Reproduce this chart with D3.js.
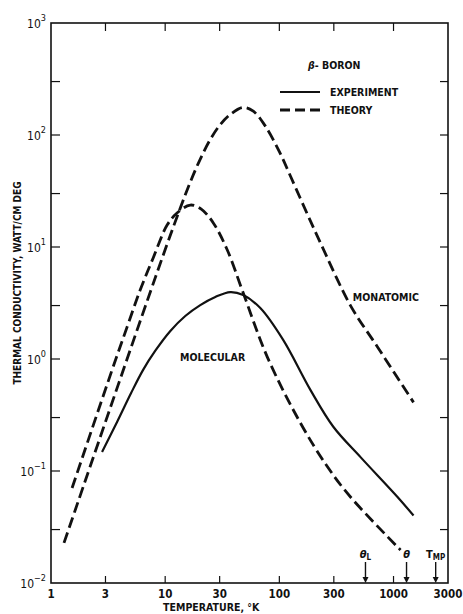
<!DOCTYPE html>
<html>
<head>
<meta charset="utf-8">
<script src="https://cdn.jsdelivr.net/npm/d3@7"></script>
<style>
  body { margin: 0; background: #fff; }
  svg { display: block; }
</style>
</head>
<body>
<div id="chart"></div>
<script>
// temperatures (K) and thermal conductivity (watt/cm deg)
const monatomicT = [1.30, 10.4, 16.6, 20.3, 24.8, 30.4, 37.9, 48.3, 59.1, 75.4, 100, 125, 187, 229, 420, 724, 1497];
const monatomicK = [0.0228, 10.6, 38, 61, 91, 124, 155, 176, 163, 120, 71, 43, 17.1, 10.9, 3.0, 1.28, 0.41];

const molecularT = [1.53, 3.43, 4.64, 6.04, 7.85, 10.4, 12.7, 16.6, 20.7, 26.4, 35, 48.3, 78.5, 153, 264, 420, 1152];
const molecularK = [0.0705, 0.80, 1.93, 4.13, 7.98, 15.7, 20.1, 23.7, 21.8, 16.4, 9.4, 3.88, 1.04, 0.268, 0.109, 0.0586, 0.0197];

const experimentT = [2.80, 3.79, 5.03, 6.41, 8.17, 11.1, 15.0, 20.3, 27.5, 37.2, 48.3, 68.1, 108, 187, 298, 514, 1084, 1497];
const experimentK = [0.148, 0.274, 0.497, 0.80, 1.18, 1.78, 2.42, 3.03, 3.58, 3.96, 3.72, 2.85, 1.48, 0.53, 0.247, 0.133, 0.0586, 0.040];

const xTicks = [1, 3, 10, 30, 100, 300, 1000, 3000];
const yExponents = [-2, -1, 0, 1, 2, 3];
const markerNames = ["θ", "θ", "T"];
const markerSubs = ["L", "", "MP"];
const markerT = [568, 1300, 2340];

const font = "'DejaVu Sans Condensed', 'DejaVu Sans', sans-serif";

const margin = { top: 23, right: 15, bottom: 31, left: 51 };
const totalW = 463, totalH = 614;
const width = totalW - margin.left - margin.right;
const height = totalH - margin.top - margin.bottom;

const svg = d3.select("#chart").append("svg")
    .attr("width", totalW)
    .attr("height", totalH);

const g = svg.append("g")
    .attr("transform", "translate(" + margin.left + "," + margin.top + ")");

const x = d3.scaleLog().domain([1, 3000]).range([0, width]);
const y = d3.scaleLog().domain([0.01, 1000]).range([height, 0]);

// frame
g.append("rect")
    .attr("width", width)
    .attr("height", height)
    .attr("fill", "none")
    .attr("stroke", "#111")
    .attr("stroke-width", 1.6);

// ticks: decades and 3x decades on all four sides, pointing inward
const yTickVals = [];
yExponents.forEach(e => { yTickVals.push(Math.pow(10, e)); if (e < 3) yTickVals.push(3 * Math.pow(10, e)); });
const innerY = yTickVals.filter(v => v > 0.01 && v < 1000);

g.selectAll(".ytickL")
    .data(innerY)
    .enter().append("line")
    .attr("x1", 0).attr("x2", 9)
    .attr("y1", d => y(d)).attr("y2", d => y(d))
    .attr("stroke", "#111").attr("stroke-width", 1.2);

g.selectAll(".ytickR")
    .data(innerY)
    .enter().append("line")
    .attr("x1", width).attr("x2", width - 8)
    .attr("y1", d => y(d)).attr("y2", d => y(d))
    .attr("stroke", "#111").attr("stroke-width", 1.2);

const innerX = xTicks.filter(v => v > 1 && v < 3000);
g.selectAll(".xtickB")
    .data(innerX)
    .enter().append("line")
    .attr("x1", d => x(d)).attr("x2", d => x(d))
    .attr("y1", height).attr("y2", height - 7)
    .attr("stroke", "#111").attr("stroke-width", 1.2);

g.selectAll(".xtickT")
    .data(innerX)
    .enter().append("line")
    .attr("x1", d => x(d)).attr("x2", d => x(d))
    .attr("y1", 0).attr("y2", 8)
    .attr("stroke", "#111").attr("stroke-width", 1.2);

// x tick labels
g.selectAll(".xlabel")
    .data(xTicks)
    .enter().append("text")
    .attr("x", d => x(d))
    .attr("y", height + 15)
    .attr("text-anchor", "middle")
    .style("font", "bold 11.5px " + font)
    .attr("fill", "#111")
    .text(d => d);

// y tick labels as 10 with superscript exponent
const yLab = g.selectAll(".ylabel")
    .data(yExponents)
    .enter().append("text")
    .attr("x", -5)
    .attr("y", d => y(Math.pow(10, d)) + 5)
    .attr("text-anchor", "end")
    .style("font", "12px " + font)
    .attr("fill", "#111");
yLab.append("tspan").text("10");
yLab.append("tspan")
    .attr("dy", -7)
    .style("font-size", "9px")
    .text(d => d < 0 ? "\u2212" + (-d) : d);

// axis titles
g.append("text")
    .attr("x", x(28) - 5)
    .attr("y", height + 28)
    .attr("text-anchor", "middle")
    .style("font", "bold 10.5px " + font)
    .attr("fill", "#111")
    .text("TEMPERATURE, °K");

svg.append("text")
    .attr("transform", "translate(21,283) rotate(-90)")
    .attr("text-anchor", "middle")
    .style("font", "bold 10px " + font)
    .attr("fill", "#111")
    .text("THERMAL  CONDUCTIVITY,  WATT/CM  DEG");

// curves
const line = d3.line()
    .x(d => x(d[0]))
    .y(d => y(d[1]))
    .curve(d3.curveCatmullRom.alpha(0.5));

const series = [
    { t: monatomicT, k: monatomicK, dash: "11,5" },
    { t: molecularT, k: molecularK, dash: "11,5" },
    { t: experimentT, k: experimentK, dash: null }
];

series.forEach(s => {
    g.append("path")
        .datum(s.t.map((t, i) => [t, s.k[i]]))
        .attr("fill", "none")
        .attr("stroke", "#111")
        .attr("stroke-width", s.dash ? 2.8 : 2.2)
        .attr("stroke-dasharray", s.dash)
        .attr("d", line);
});

// curve labels
g.append("text")
    .attr("x", x(440)).attr("y", y(3.3))
    .style("font", "bold 10.5px " + font).attr("fill", "#111")
    .text("MONATOMIC");
g.append("text")
    .attr("x", x(13.5)).attr("y", y(0.95))
    .style("font", "bold 10.5px " + font).attr("fill", "#111")
    .text("MOLECULAR");

// legend
const legend = svg.append("g")
    .style("font", "bold 10.5px " + font)
    .attr("fill", "#111");
const boron = legend.append("text").attr("x", 308).attr("y", 69);
boron.append("tspan").style("font-style", "italic").text("β");
boron.append("tspan").text("- BORON");
legend.append("line")
    .attr("x1", 280).attr("x2", 320).attr("y1", 92).attr("y2", 92)
    .attr("stroke", "#111").attr("stroke-width", 2.2);
legend.append("text").attr("x", 330).attr("y", 96).text("EXPERIMENT");
legend.append("line")
    .attr("x1", 280).attr("x2", 320).attr("y1", 110).attr("y2", 110)
    .attr("stroke", "#111").attr("stroke-width", 2.8)
    .attr("stroke-dasharray", "10,5");
legend.append("text").attr("x", 330).attr("y", 114).text("THEORY");

// characteristic temperature arrows
const markers = g.selectAll(".marker")
    .data(markerT)
    .enter().append("g")
    .attr("transform", d => "translate(" + x(d) + ",0)");
markers.append("line")
    .attr("y1", height - 21).attr("y2", height - 4)
    .attr("stroke", "#111").attr("stroke-width", 1.4);
markers.append("path")
    .attr("d", "M-3," + (height - 6) + "L3," + (height - 6) + "L0," + height + "Z")
    .attr("fill", "#111");
const mLab = markers.append("text")
    .attr("y", height - 25)
    .attr("text-anchor", "middle")
    .style("font", "bold 11px " + font)
    .attr("fill", "#111");
mLab.append("tspan").style("font-style", (d, i) => i < 2 ? "italic" : "normal").text((d, i) => markerNames[i]);
mLab.append("tspan").attr("dy", 2).style("font-size", "8px").text((d, i) => markerSubs[i]);
</script>
</body>
</html>
